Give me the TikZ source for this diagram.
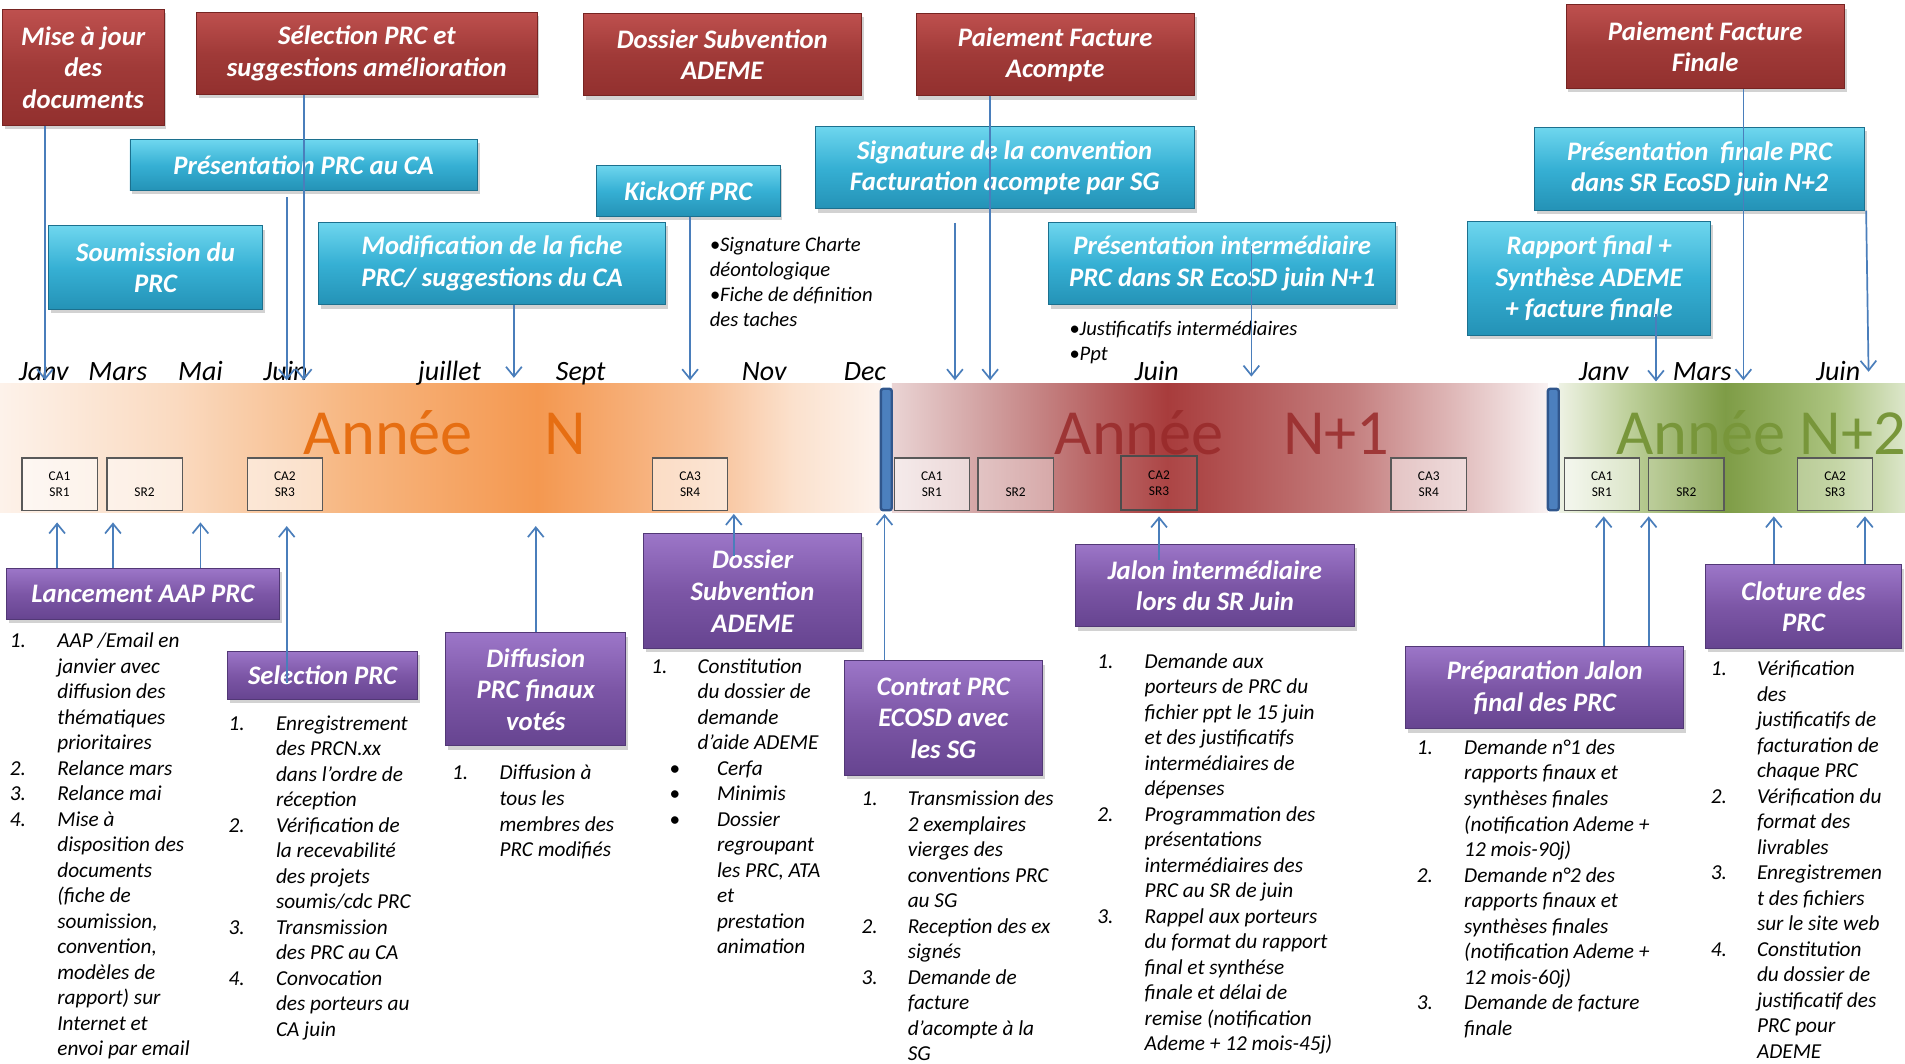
\documentclass[tikz,border=0pt]{standalone}
\usepackage{fontspec}
\setmainfont{Carlito}[ItalicFont={Carlito Italic}, BoldFont={Carlito Bold}, BoldItalicFont={Carlito Bold Italic}]
\usetikzlibrary{arrows.meta,shadows,calc}

\definecolor{redT}{RGB}{190,80,78}
\definecolor{redM}{RGB}{160,58,56}
\definecolor{redB}{RGB}{146,48,46}
\definecolor{redD}{RGB}{118,36,34}
\definecolor{cyT}{RGB}{110,214,238}
\definecolor{cyM}{RGB}{54,176,212}
\definecolor{cyB}{RGB}{36,146,182}
\definecolor{cyD}{RGB}{28,112,142}
\definecolor{puT}{RGB}{156,118,200}
\definecolor{puM}{RGB}{124,86,166}
\definecolor{puB}{RGB}{102,68,144}
\definecolor{puD}{RGB}{82,56,118}
\definecolor{arrB}{RGB}{74,126,187}
\definecolor{sepB}{RGB}{76,128,190}
\definecolor{sepD}{RGB}{48,86,140}
\definecolor{txOr}{RGB}{230,110,18}
\definecolor{txRd}{RGB}{152,42,42}
\definecolor{txGr}{RGB}{120,150,58}

\definecolor{o0}{RGB}{253,242,234}
\definecolor{o1}{RGB}{250,218,192}
\definecolor{o2}{RGB}{247,182,128}
\definecolor{o3}{RGB}{244,152,80}
\definecolor{o4}{RGB}{248,192,150}
\definecolor{o5}{RGB}{251,225,205}
\definecolor{o6}{RGB}{253,243,237}
\pgfdeclarehorizontalshading{bandN}{100bp}{color(0bp)=(o0); color(25bp)=(o0); color(35bp)=(o1); color(45bp)=(o2); color(55.5bp)=(o3); color(65bp)=(o4); color(70bp)=(o5); color(75bp)=(o6); color(100bp)=(o6)}

\definecolor{r0}{RGB}{234,212,212}
\definecolor{r1}{RGB}{208,158,158}
\definecolor{r2}{RGB}{168,60,60}
\definecolor{r3}{RGB}{196,126,126}
\definecolor{r4}{RGB}{222,182,182}
\definecolor{r5}{RGB}{249,242,242}
\pgfdeclarehorizontalshading{bandNa}{100bp}{color(0bp)=(r0); color(25bp)=(r0); color(32.5bp)=(r1); color(46bp)=(r2); color(60bp)=(r3); color(67.5bp)=(r4); color(75bp)=(r5); color(100bp)=(r5)}

\definecolor{g0}{RGB}{238,242,228}
\definecolor{g1}{RGB}{190,208,155}
\definecolor{g2}{RGB}{126,156,70}
\definecolor{g3}{RGB}{172,196,128}
\definecolor{g4}{RGB}{220,230,202}
\pgfdeclarehorizontalshading{bandNb}{100bp}{color(0bp)=(g0); color(25bp)=(g0); color(35bp)=(g1); color(49bp)=(g2); color(65bp)=(g3); color(75bp)=(g4); color(100bp)=(g4)}

\tikzset{
  boxbase/.style={inner sep=2pt, align=center, text=white,
    font=\bfseries\itshape\fontsize{22}{26}\selectfont, line width=0.8pt,
    drop shadow={shadow xshift=2pt, shadow yshift=-3pt, opacity=0.35}},
  redbox/.style={boxbase, draw=redD, top color=redT, bottom color=redB, middle color=redM},
  cybox/.style={boxbase, draw=cyD, top color=cyT, bottom color=cyB, middle color=cyM},
  pubox/.style={boxbase, draw=puD, top color=puT, bottom color=puB, middle color=puM},
  arr/.style={draw=arrB, line width=1.4pt, -{Straight Barb[length=8pt,width=13pt]}},
  sbox/.style={draw=black!65, line width=1.1pt, fill=white, fill opacity=0.55, text opacity=1,
    minimum width=62pt, minimum height=43pt, inner sep=0, align=center,
    font=\fontsize{11}{13}\selectfont},
  month/.style={font=\itshape\fontsize{23}{26}\selectfont, inner sep=0, anchor=base},
  listtxt/.style={font=\itshape\fontsize{17.5}{21}\selectfont, inner sep=0, anchor=base west},
  notetxt/.style={font=\itshape\fontsize{17}{20.7}\selectfont, inner sep=0, anchor=base west},
  year/.style={font=\fontsize{53}{60}\selectfont, inner sep=0, anchor=base west}
}

\begin{document}
\begin{tikzpicture}[x=1pt,y=-1pt]
\fill[white] (0,0) rectangle (1568,875);
\useasboundingbox (0,0) rectangle (1568,875);

% ---------- band ----------
\shade[shading=bandN] (0,316) rectangle (725,422);
\shade[shading=bandNa] (734,316) rectangle (1274,422);
\shade[shading=bandNb] (1283,316) rectangle (1568,422);

\node[year, text=txOr] (yN) at (250,374) {Année\hspace{59pt}N};
\node[year, text=txRd, text opacity=0.85] (yN1) at (868,374) {Année\hspace{49pt}N+1};
\node[year, text=txGr] (yN2) at (1330,374) {Année N+2};

\draw[fill=sepB, draw=sepD, line width=2pt, rounded corners=2pt] (725,320) rectangle (734,420);
\draw[fill=sepB, draw=sepD, line width=2pt, rounded corners=2pt] (1274,320) rectangle (1283,420);

% small boxes
\node[sbox] (s1) at (49,398.5) {CA1\\SR1};
\node[sbox] (s2) at (119,398.5) {\phantom{SR2}\\SR2};
\node[sbox] (s3) at (234.5,398.5) {CA2\\SR3};
\node[sbox] (s4) at (568,398.5) {CA3\\SR4};
\node[sbox] (s5) at (767,398.5) {CA1\\SR1};
\node[sbox, fill opacity=0.35] (s6) at (836,398.5) {\phantom{SR2}\\SR2};
\node[sbox, fill opacity=0.05, draw=black!70, line width=1.5pt, minimum height=45pt] (s7) at (954,397.5) {CA2\\SR3};
\node[sbox, fill opacity=0.45] (s8) at (1176,398.5) {CA3\\SR4};
\node[sbox, fill opacity=0.5] (s9) at (1318.5,398.5) {CA1\\SR1};
\node[sbox, fill opacity=0.15] (s10) at (1388,398.5) {\phantom{SR2}\\SR2};
\node[sbox, fill opacity=0.3] (s11) at (1510.5,398.5) {CA2\\SR3};

% months
\node[month] (m1) at (36,313) {Janv};
\node[month] (m2) at (97,313) {Mars};
\node[month] (m3) at (165,313) {Mai};
\node[month] (m4) at (235,313) {Juin};
\node[month] (m5) at (370,313) {juillet};
\node[month] (m6) at (478,313) {Sept};
\node[month] (m7) at (629,313) {Nov};
\node[month] (m8) at (712,313) {Dec};
\node[month] (m9) at (952,313) {Juin};
\node[month] (m10) at (1320,313) {Janv};
\node[month] (m11) at (1401,313) {Mars};
\node[month] (m12) at (1513,313) {Juin};

% ---------- red boxes ----------
\node[redbox, minimum width=133pt, minimum height=95pt] (r1) at (68.5,55.5) {Mise à jour\\des\\documents};
\node[redbox, minimum width=280pt, minimum height=68pt] (r2) at (302,44) {Sélection PRC et\\suggestions amélioration};
\node[redbox, minimum width=229pt, minimum height=68pt] (r3) at (594.5,45) {Dossier Subvention\\ADEME};
\node[redbox, minimum width=229pt, minimum height=68pt] (r4) at (868.5,45) {Paiement Facture\\Acompte};
\node[redbox, minimum width=229pt, minimum height=69pt] (r5) at (1403.5,38.5) {Paiement Facture\\Finale};

% ---------- cyan boxes ----------
\node[cybox, minimum width=286pt, minimum height=42pt] (c1) at (250,136) {Présentation PRC au CA};
\node[cybox, minimum width=176pt, minimum height=69pt] (c2) at (128,220.5) {Soumission du\\PRC};
\node[cybox, minimum width=286pt, minimum height=68pt] (c3) at (405,217) {Modification de la fiche\\PRC/ suggestions du CA};
\node[cybox, minimum width=151pt, minimum height=42pt] (c4) at (566.5,157) {KickOff PRC};
\node[cybox, minimum width=312pt, minimum height=68pt] (c5) at (827,138) {Signature de la convention\\Facturation acompte par SG};
\node[cybox, minimum width=286pt, minimum height=68pt] (c6) at (1006,217) {Présentation intermédiaire\\PRC dans SR EcoSD juin N+1};
\node[cybox, minimum width=272pt, minimum height=68pt] (c7) at (1399,139) {Présentation\ \ finale PRC\\dans SR EcoSD juin N+2};
\node[cybox, minimum width=200pt, minimum height=94pt] (c8) at (1308,229) {Rapport final +\\Synthèse ADEME\\+ facture finale};

% notes
\node[notetxt] (n1) at (584,207) {\begin{tabular}[t]{@{}l@{}}•Signature Charte\\déontologique\\•Fiche de définition\\des taches\end{tabular}};
\node[notetxt] (n2) at (880,276) {\begin{tabular}[t]{@{}l@{}}•Justificatifs intermédiaires\\•Ppt\end{tabular}};

% ---------- purple boxes ----------
\node[pubox, minimum width=225pt, minimum height=42pt] (p1) at (117.5,489) {Lancement AAP PRC};
\node[pubox, minimum width=157pt, minimum height=40pt] (p2) at (265.5,556) {Selection PRC};
\node[pubox, minimum width=148pt, minimum height=93pt] (p3) at (441,567.5) {Diffusion\\PRC finaux\\votés};
\node[pubox, minimum width=179pt, minimum height=95pt] (p4) at (619.5,486.5) {Dossier\\Subvention\\ADEME};
\node[pubox, minimum width=163pt, minimum height=94pt] (p5) at (776.5,591) {Contrat PRC\\ECOSD avec\\les SG};
\node[pubox, minimum width=230pt, minimum height=68pt] (p6) at (1000,482) {Jalon intermédiaire\\lors du SR Juin};
\node[pubox, minimum width=229pt, minimum height=68pt] (p7) at (1271.5,566) {Préparation Jalon\\final des PRC};
\node[pubox, minimum width=161pt, minimum height=69pt] (p8) at (1484.5,499.5) {Cloture des\\PRC};

% ---------- lists ----------
\node[listtxt] (l1) at (8,533) {\begin{tabular}[t]{@{}p{39pt}@{}l@{}}
1. & AAP /Email en\\ & janvier avec\\ & diffusion des\\ & thématiques\\ & prioritaires\\
2. & Relance mars\\
3. & Relance mai\\
4. & Mise à\\ & disposition des\\ & documents\\ & (fiche de\\ & soumission,\\ & convention,\\ & modèles de\\ & rapport) sur\\ & Internet et\\ & envoi par email
\end{tabular}};

\node[listtxt] (l2) at (188,601) {\begin{tabular}[t]{@{}p{39pt}@{}l@{}}
1. & Enregistrement\\ & des PRCN.xx\\ & dans l’ordre de\\ & réception\\
2. & Vérification de\\ & la recevabilité\\ & des projets\\ & soumis/cdc PRC\\
3. & Transmission\\ & des PRC au CA\\
4. & Convocation\\ & des porteurs au\\ & CA juin
\end{tabular}};

\node[listtxt] (l3) at (372,642) {\begin{tabular}[t]{@{}p{39pt}@{}l@{}}
1. & Diffusion à\\ & tous les\\ & membres des\\ & PRC modifiés
\end{tabular}};

\node[listtxt] (l4) at (536,554) {\begin{tabular}[t]{@{}p{38pt}@{}l@{}}
1. & Constitution\\ & du dossier de\\ & demande\\ & d’aide ADEME\\
\hspace*{15pt}\upshape• & \hspace*{16pt}Cerfa\\
\hspace*{15pt}\upshape• & \hspace*{16pt}Minimis\\
\hspace*{15pt}\upshape• & \hspace*{16pt}Dossier\\ & \hspace*{16pt}regroupant\\ & \hspace*{16pt}les PRC, ATA\\ & \hspace*{16pt}et\\ & \hspace*{16pt}prestation\\ & \hspace*{16pt}animation
\end{tabular}};

\node[listtxt] (l5) at (709,663) {\begin{tabular}[t]{@{}p{38pt}@{}l@{}}
1. & Transmission des\\ & 2 exemplaires\\ & vierges des\\ & conventions PRC\\ & au SG\\
2. & Reception des ex\\ & signés\\
3. & Demande de\\ & facture\\ & d’acompte à la\\ & SG
\end{tabular}};

\node[listtxt] (l6) at (903,550) {\begin{tabular}[t]{@{}p{39pt}@{}l@{}}
1. & Demande aux\\ & porteurs de PRC du\\ & fichier ppt le 15 juin\\ & et des justificatifs\\ & intermédiaires de\\ & dépenses\\
2. & Programmation des\\ & présentations\\ & intermédiaires des\\ & PRC au SR de juin\\
3. & Rappel aux porteurs\\ & du format du rapport\\ & final et synthése\\ & finale et délai de\\ & remise (notification\\ & Ademe + 12 mois-45j)
\end{tabular}};

\node[listtxt] (l7) at (1166,621) {\begin{tabular}[t]{@{}p{39pt}@{}l@{}}
1. & Demande n°1 des\\ & rapports finaux et\\ & synthèses finales\\ & (notification Ademe +\\ & 12 mois-90j)\\
2. & Demande n°2 des\\ & rapports finaux et\\ & synthèses finales\\ & (notification Ademe +\\ & 12 mois-60j)\\
3. & Demande de facture\\ & finale
\end{tabular}};

\node[listtxt] (l8) at (1408,556) {\begin{tabular}[t]{@{}p{38pt}@{}l@{}}
1. & Vérification\\ & des\\ & justificatifs de\\ & facturation de\\ & chaque PRC\\
2. & Vérification du\\ & format des\\ & livrables\\
3. & Enregistremen\\ & t des fichiers\\ & sur le site web\\
4. & Constitution\\ & du dossier de\\ & justificatif des\\ & PRC pour\\ & ADEME
\end{tabular}};

% ---------- top arrows ----------
\coordinate (t1) at (37,313);
\coordinate (t2) at (250,313);
\coordinate (t3) at (236,313);
\coordinate (t4) at (423,311);
\coordinate (t5) at (568,313);
\coordinate (t6) at (786,313);
\coordinate (t7) at (815,313);
\coordinate (t8) at (1030,310);
\coordinate (t9) at (1363,314);
\coordinate (t10) at (1435,313);
\coordinate (t11) at (1538,306);
\coordinate (u11) at (1536,0);

\draw[arr] (r1.south -| t1) -- (t1);
\draw[arr] (r2.south -| t2) -- (t2);
\draw[arr] ($(c1.south -| t3)+(0,5)$) -- (t3);
\draw[arr] (c3.south -| t4) -- (t4);
\draw[arr] (c4.south -| t5) -- (t5);
\draw[arr] ($(c5.south -| t6)+(0,11)$) -- (t6);
\draw[arr] (r4.south -| t7) -- (t7);
\draw[arr] ($(c6.north -| t8)+(0,20)$) -- (t8);
\draw[arr] ($(c8.south -| t9)+(0,-18)$) -- (t9);
\draw[arr] (r5.south -| t10) -- (t10);
\draw[arr] (c7.south -| u11) -- (t11);

% ---------- bottom arrows ----------
\coordinate (b1) at (47,430);
\coordinate (b2) at (93,430);
\coordinate (b3) at (165,430);
\coordinate (b4) at (236,433);
\coordinate (b5) at (441,433);
\coordinate (b6) at (604,423);
\coordinate (b7) at (728,423);
\coordinate (b8) at (954,425);
\coordinate (b9) at (1320,425);
\coordinate (b10) at (1357,425);
\coordinate (b11) at (1460,425);
\coordinate (b12) at (1535,425);

\draw[arr] (p1.north -| b1) -- (b1);
\draw[arr] (p1.north -| b2) -- (b2);
\draw[arr] (p1.north -| b3) -- (b3);
\draw[arr] ($(p2.south -| b4)+(0,-14)$) -- (b4);
\draw[arr] (p3.north -| b5) -- (b5);
\draw[arr] ($(p4.north -| b6)+(0,19)$) -- (b6);
\draw[arr] (p5.north -| b7) -- (b7);
\draw[arr] ($(p6.north -| b8)+(0,13)$) -- (b8);
\draw[arr] (p7.north -| b9) -- (b9);
\draw[arr] (p7.north -| b10) -- (b10);
\draw[arr] (p8.north -| b11) -- (b11);
\draw[arr] (p8.north -| b12) -- (b12);
\end{tikzpicture}
\end{document}
